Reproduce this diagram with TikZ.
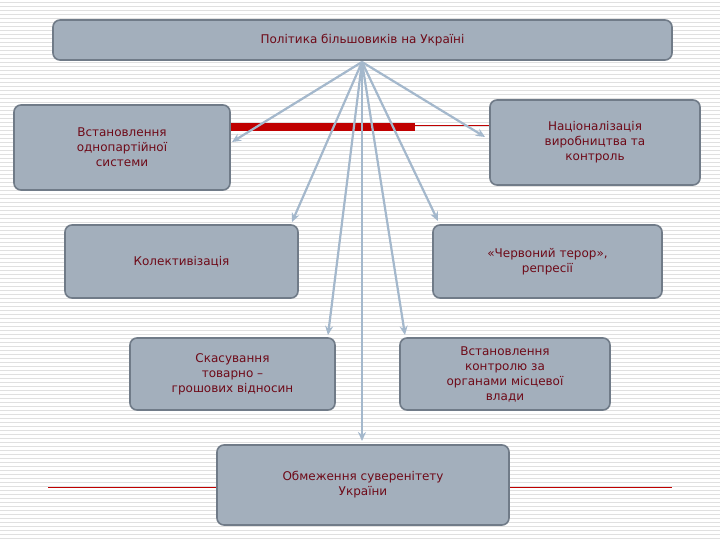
\documentclass[tikz,border=0pt]{standalone}
\usepackage{fontspec}
\setmainfont{DejaVu Sans}
\usetikzlibrary{arrows.meta}
\begin{document}
\begin{tikzpicture}[x=1pt,y=-1pt,
  box/.style={draw=boxline,line width=1.6pt,fill=boxfill,rounded corners=7pt,align=center,text=txt,font=\fontsize{12}{15}\selectfont,inner sep=0pt},
  arr/.style={draw=arrc,line width=2.2pt,-{Stealth[length=9pt,width=8pt]}}]
\definecolor{boxfill}{HTML}{A3AFBC}
\definecolor{boxline}{HTML}{707B88}
\definecolor{txt}{HTML}{6E0A18}
\definecolor{arrc}{HTML}{A4B8CC}
\definecolor{redc}{HTML}{C00000}
\useasboundingbox (0,0) rectangle (720,540);
\fill[white] (0,0) rectangle (720,540);
\foreach \y in {2,6,...,538} \draw[black!12,line width=0.5pt] (0,\y) -- (720,\y);
\draw[redc,line width=0.6pt] (230,125) -- (490,125);
\fill[redc] (230,123) rectangle (415,131);
\draw[redc,line width=0.6pt] (48,487) -- (672,487);
\node[box,minimum width=619,minimum height=40] (top) at (362.5,40) {Політика більшовиків на Україні};
\node[box,minimum width=216,minimum height=85] (a) at (122,147.5) {Встановлення\\однопартійної\\системи};
\node[box,minimum width=210,minimum height=85] (b) at (595,142.5) {Націоналізація\\виробництва та\\контроль};
\node[box,minimum width=233,minimum height=73] (c) at (181.5,261.5) {Колективізація};
\node[box,minimum width=229,minimum height=73] (d) at (547.5,261.5) {«Червоний терор»,\\репресії};
\node[box,minimum width=205,minimum height=72] (e) at (232.5,374) {Скасування\\товарно –\\грошових відносин};
\node[box,minimum width=210,minimum height=72] (f) at (505,374) {Встановлення\\контролю за\\органами місцевої\\влади};
\node[box,minimum width=292,minimum height=80] (g) at (363,485) {Обмеження суверенітету\\України};
\coordinate (o) at (362,62);
\draw[arr] (o) -- (232,142);
\draw[arr] (o) -- (485,137);
\draw[arr] (o) -- (292,222);
\draw[arr] (o) -- (438,221);
\draw[arr] (o) -- (328,335);
\draw[arr] (o) -- (405,335);
\draw[arr] (o) -- (362,441);
\end{tikzpicture}
\end{document}
